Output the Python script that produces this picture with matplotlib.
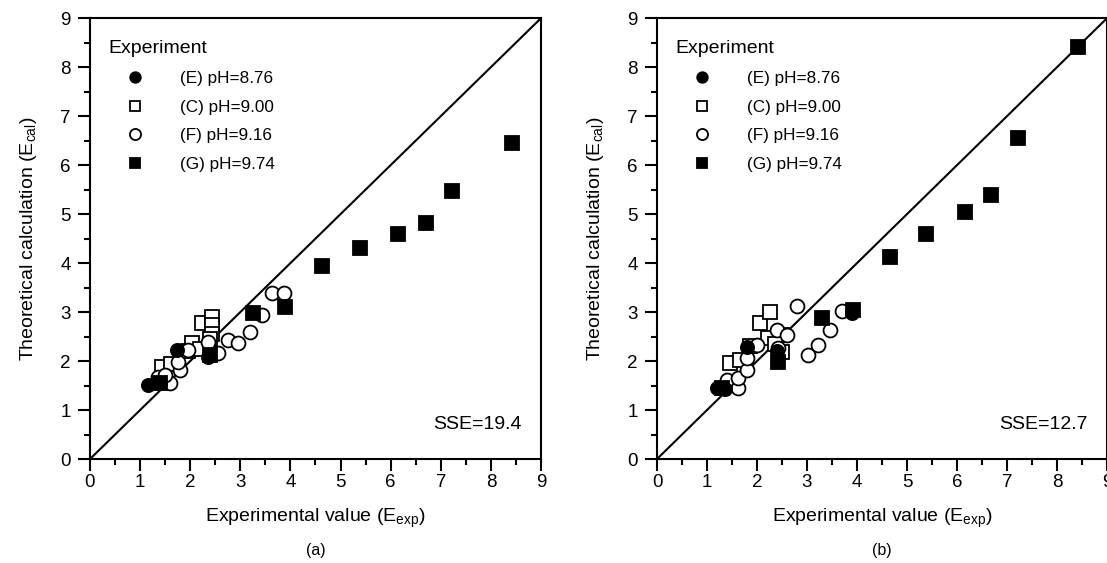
import numpy as np
import matplotlib
matplotlib.use("Agg")
import matplotlib.pyplot as plt
from matplotlib.ticker import MultipleLocator

plt.rcParams['font.family'] = ['Liberation Sans', 'DejaVu Sans']
plt.rcParams['mathtext.fontset'] = 'custom'
plt.rcParams['mathtext.rm'] = 'Liberation Sans'
plt.rcParams['mathtext.it'] = 'Liberation Sans'

# dati pannello (a)
a_E_x = [1.16, 1.73, 2.36, 1.40]
a_E_y = [1.51, 2.22, 2.08, 1.55]
a_C_x = [1.44, 1.62, 1.95, 2.04, 2.24, 2.44, 2.44, 2.44, 2.40, 2.20]
a_C_y = [1.88, 1.95, 2.20, 2.37, 2.77, 2.90, 2.73, 2.55, 2.45, 2.25]
a_F_x = [1.36, 1.60, 1.80, 1.76, 1.96, 2.36, 2.55, 2.75, 2.95, 3.19, 3.43, 3.63, 3.87, 1.50]
a_F_y = [1.67, 1.55, 1.82, 1.98, 2.22, 2.39, 2.16, 2.43, 2.37, 2.59, 2.94, 3.39, 3.39, 1.72]
a_G_x = [1.40, 2.40, 3.25, 3.89, 4.62, 5.38, 6.15, 6.70, 7.22, 8.42]
a_G_y = [1.55, 2.12, 2.98, 3.10, 3.95, 4.30, 4.60, 4.82, 5.48, 6.45]

# dati pannello (b)
b_E_x = [1.20, 1.79, 2.40, 3.89, 1.35]
b_E_y = [1.45, 2.29, 2.20, 2.98, 1.42]
b_C_x = [1.46, 1.66, 2.06, 2.26, 2.22, 2.50, 2.50, 1.85, 2.35]
b_C_y = [1.96, 2.02, 2.77, 3.00, 2.47, 2.53, 2.18, 2.30, 2.35]
b_F_x = [1.40, 1.62, 1.62, 1.79, 1.79, 1.99, 2.39, 2.41, 2.59, 2.79, 3.01, 3.21, 3.45, 3.69]
b_F_y = [1.61, 1.45, 1.65, 1.82, 2.06, 2.33, 2.63, 2.27, 2.53, 3.12, 2.12, 2.33, 2.63, 3.02]
b_G_x = [1.30, 2.42, 3.29, 3.91, 4.65, 5.38, 6.15, 6.68, 7.22, 8.42]
b_G_y = [1.45, 1.98, 2.88, 3.04, 4.12, 4.60, 5.05, 5.40, 6.55, 8.42]

etichette = ["(E) pH=8.76", "(C) pH=9.00", "(F) pH=9.16", "(G) pH=9.74"]
sse = ["SSE=19.4", "SSE=12.7"]
lettere = ["(a)", "(b)"]

pannelli = [
    (a_E_x, a_E_y, a_C_x, a_C_y, a_F_x, a_F_y, a_G_x, a_G_y),
    (b_E_x, b_E_y, b_C_x, b_C_y, b_F_x, b_F_y, b_G_x, b_G_y),
]

fig = plt.figure(figsize=(11.07, 5.63), dpi=100)
posizioni = [[0.0813, 0.1847, 0.4074, 0.783], [0.5935, 0.1847, 0.4065, 0.783]]

ms = 9.5
mew = 1.3
for i, dati in enumerate(pannelli):
    ax = fig.add_axes(posizioni[i])
    ax.plot([0, 9], [0, 9], color='black', lw=1.5, zorder=1)
    ex, ey, cx, cy, fx, fy, gx, gy = dati
    ax.plot(ex, ey, 'o', ms=ms, mfc='black', mec='black', mew=mew, ls='none', label=etichette[0], zorder=3)
    ax.plot(cx, cy, 's', ms=ms, mfc='white', mec='black', mew=mew, ls='none', label=etichette[1], zorder=2)
    ax.plot(fx, fy, 'o', ms=ms + 0.5, mfc='white', mec='black', mew=mew, ls='none', label=etichette[2], zorder=2)
    ax.plot(gx, gy, 's', ms=ms, mfc='black', mec='black', mew=mew, ls='none', label=etichette[3], zorder=3)
    ax.set_xlim(0, 9)
    ax.set_ylim(0, 9)
    ax.xaxis.set_major_locator(MultipleLocator(1))
    ax.yaxis.set_major_locator(MultipleLocator(1))
    ax.xaxis.set_minor_locator(MultipleLocator(0.5))
    ax.yaxis.set_minor_locator(MultipleLocator(0.5))
    ax.tick_params(which='major', direction='out', length=8.5, width=1.5, labelsize=13.5)
    ax.tick_params(which='minor', direction='out', length=4.3, width=1.5)
    ax.tick_params(axis='x', which='major', pad=2.5)
    ax.tick_params(axis='y', which='major', pad=5.5)
    for s in ax.spines.values():
        s.set_linewidth(1.5)
    ax.set_xlabel("Experimental value (E$_{\\mathregular{exp}}$)", fontsize=14, labelpad=11)
    ax.set_ylabel("Theoretical calculation (E$_{\\mathregular{cal}}$)", fontsize=14, labelpad=15)
    leg = ax.legend(loc='upper left', bbox_to_anchor=(0.0133, 0.977), title="Experiment",
                    frameon=False, fontsize=12.3, title_fontsize=14, markerscale=0.8,
                    handlelength=3.16, handletextpad=1.05, labelspacing=0.8,
                    borderaxespad=0.3, alignment='left')
    ax.text(0.957, 0.079, sse[i], transform=ax.transAxes, ha='right', va='center', fontsize=14)
    ax.text(0.5, -0.207, lettere[i], transform=ax.transAxes, ha='center', va='center', fontsize=11.5)

fig.savefig("out.png", dpi=100)
